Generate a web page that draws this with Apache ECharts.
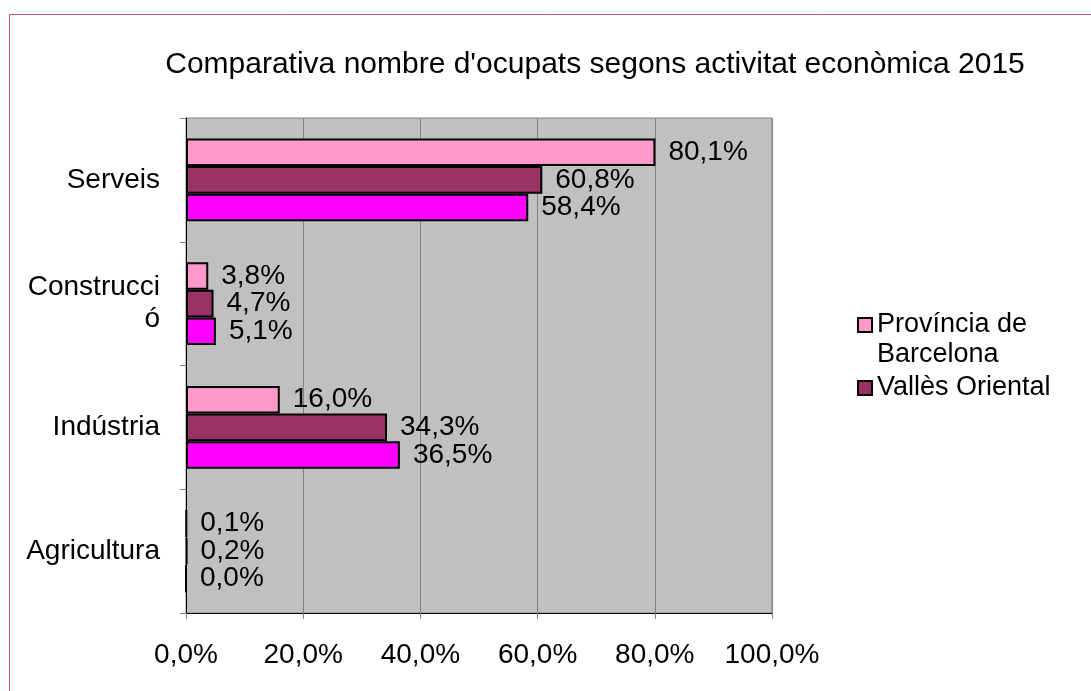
<!DOCTYPE html>
<html>
<head>
<meta charset="utf-8">
<script src="https://cdn.jsdelivr.net/npm/echarts@6/dist/echarts.min.js"></script>
<style>
  html, body { margin: 0; padding: 0; background: #fff; }
  #chart { width: 1091px; height: 691px; }
</style>
</head>
<body>
<div id="chart"></div>
<script>
// categories, bottom to top like the reference
const categories = ['Agricultura', 'Indústria', 'Construcció', 'Serveis']
const seriesNames = ['Província de Barcelona', 'Vallès Oriental', 'Municipi']
const provinciaValues = [0.1, 16.0, 3.8, 80.1]
const vallesValues = [0.2, 34.3, 4.7, 60.8]
const municipiValues = [0.0, 36.5, 5.1, 58.4]
const xTicks = [0, 20, 40, 60, 80, 100]

const colors = ['#FF99CC', '#993366', '#FF00FF']
const FONT = '"Liberation Sans", Arial, Helvetica, sans-serif'

const pct = (v) => v.toFixed(1).replace('.', ',') + '%'

function makeSeries(name, data, color) {
  return {
    name,
    type: 'bar',
    data,
    barGap: '0%',
    barCategoryGap: '33%',
    itemStyle: { color, borderColor: '#000', borderWidth: 2 },
    label: {
      show: true,
      position: 'right',
      distance: 13,
      color: '#000',
      fontFamily: FONT,
      fontSize: 28,
      formatter: (p) => pct(p.value),
    },
    animation: false,
  }
}

const chart = echarts.init(document.getElementById('chart'))

chart.setOption({
  backgroundColor: '#fff',
  animation: false,
  title: {
    text: "Comparativa nombre d'ocupats segons activitat econòmica 2015",
    left: 590,
    top: 45,
    textAlign: 'center',
    textStyle: { fontFamily: FONT, fontSize: 30, fontWeight: 'normal', color: '#000' },
  },
  legend: [
    {
      data: [seriesNames[0]],
      orient: 'vertical',
      left: 852,
      top: 275,
      icon: 'rect',
      itemWidth: 14,
      itemHeight: 14,
      selectedMode: false,
      // empty first line keeps the marker level with "Província de"
      formatter: () => '\nProvíncia de\nBarcelona',
      textStyle: { fontFamily: FONT, fontSize: 27, color: '#000', lineHeight: 30 },
      itemStyle: { borderColor: '#000', borderWidth: 2 },
    },
    {
      data: [seriesNames[1]],
      orient: 'vertical',
      left: 852,
      top: 368,
      icon: 'rect',
      itemWidth: 14,
      itemHeight: 14,
      selectedMode: false,
      textStyle: { fontFamily: FONT, fontSize: 27, color: '#000', lineHeight: 30 },
      itemStyle: { borderColor: '#000', borderWidth: 2 },
    },
  ],
  grid: {
    left: 186,
    right: 319,
    top: 118,
    bottom: 78,
    show: true,
    backgroundColor: '#C0C0C0',
    borderColor: '#808080',
    borderWidth: 1,
  },
  xAxis: {
    type: 'value',
    min: xTicks[0],
    max: xTicks[xTicks.length - 1],
    interval: 20,
    axisLine: { show: true, lineStyle: { color: '#000', width: 1 } },
    axisTick: { show: true, length: 6, lineStyle: { color: '#808080' } },
    splitLine: { show: true, lineStyle: { color: '#808080', width: 1 } },
    axisLabel: {
      margin: 28,
      color: '#000',
      fontFamily: FONT,
      fontSize: 28,
      formatter: (v) => pct(v),
    },
  },
  yAxis: {
    type: 'category',
    data: categories,
    axisLine: { show: true, lineStyle: { color: '#000', width: 1 } },
    axisTick: { show: true, length: 6, lineStyle: { color: '#808080' } },
    axisLabel: {
      margin: 26,
      color: '#000',
      fontFamily: FONT,
      fontSize: 28,
      lineHeight: 32,
      align: 'right',
      formatter: (v) => (v === 'Construcció' ? 'Construcci\nó' : v),
    },
  },
  series: [
    makeSeries(seriesNames[0], provinciaValues, colors[0]),
    makeSeries(seriesNames[1], vallesValues, colors[1]),
    makeSeries(seriesNames[2], municipiValues, colors[2]),
  ],
  graphic: [
    {
      type: 'rect',
      shape: { x: 9.5, y: 14.5, width: 1200, height: 800 },
      style: { fill: 'none', stroke: '#c0587a', lineWidth: 1 },
      silent: true,
    },
  ],
})
</script>
</body>
</html>
